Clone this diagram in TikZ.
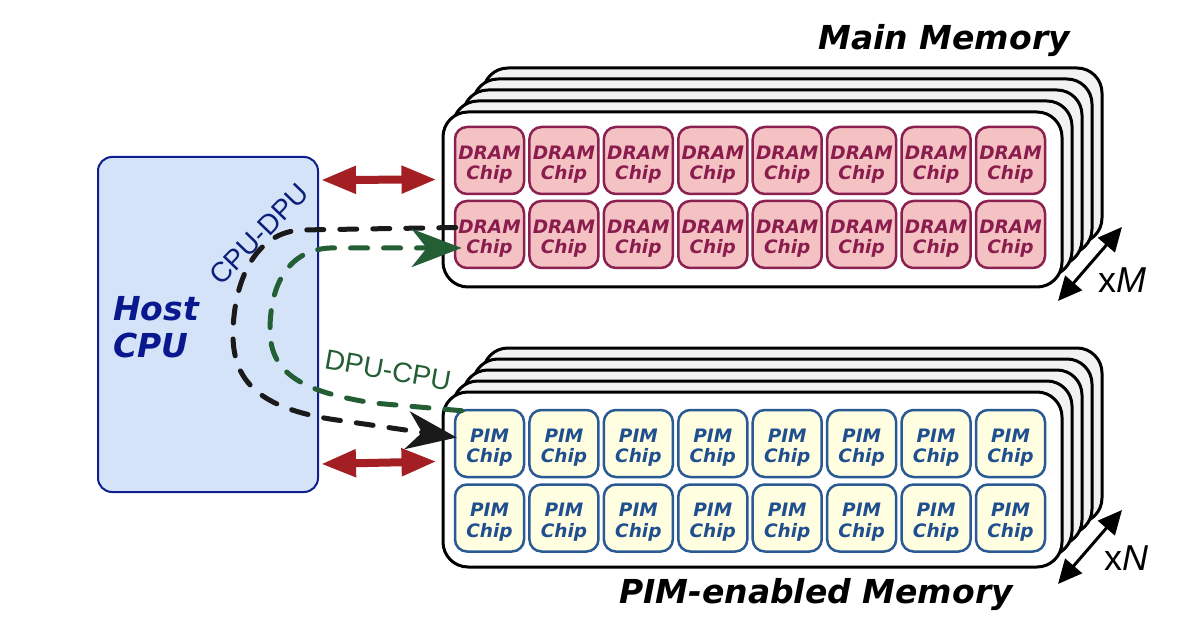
\documentclass[tikz,border=0pt]{standalone}
\usepackage{fontspec}
\setmainfont{DejaVu Sans}
\newfontfamily\vfont{DejaVu Sans}
\newfontfamily\afont{Liberation Sans}
\usetikzlibrary{arrows.meta,calc}
\definecolor{hostfill}{HTML}{D5E3F8}
\definecolor{hostdraw}{HTML}{0E1E8E}
\definecolor{hosttext}{HTML}{0A1890}
\definecolor{redarrow}{HTML}{A31F24}
\definecolor{blackdash}{HTML}{1A1A1A}
\definecolor{greendash}{HTML}{245E35}
\definecolor{dramfill}{HTML}{F4C2C3}
\definecolor{dramdraw}{HTML}{8A2151}
\definecolor{dramtext}{HTML}{8A1C4E}
\definecolor{pimfill}{HTML}{FFFEE0}
\definecolor{pimdraw}{HTML}{2A5A94}
\definecolor{pimtext}{HTML}{1F4F8F}
\definecolor{backfill}{HTML}{F2F2F2}
\definecolor{cpudpu}{HTML}{0B1F7A}
\begin{document}
\begin{tikzpicture}[x=1pt,y=-1pt,
  hostbox/.style={draw=hostdraw,fill=hostfill,line width=2pt,rounded corners=14pt,minimum width=220pt,minimum height=335pt,inner sep=0pt},
  hostlabel/.style={font=\vfont\bfseries\itshape\fontsize{33}{38}\selectfont,text=hosttext,inner sep=0pt},
  membox/.style={draw=black,fill=white,line width=3pt,rounded corners=25pt,minimum width=619pt,minimum height=175pt,inner sep=0pt},
  backbox/.style={membox,fill=backfill},
  chipD/.style={draw=dramdraw,fill=dramfill,line width=2.5pt,rounded corners=12pt,minimum width=69pt,minimum height=67pt,inner sep=0pt},
  chipP/.style={chipD,draw=pimdraw,fill=pimfill},
  chiptext/.style={inner sep=0pt,align=center,font=\vfont\bfseries\itshape\fontsize{18.5}{20.5}\selectfont},
  redarr/.style={draw=redarrow,line width=8pt,{Triangle[width=26pt,length=35pt]}-{Triangle[width=26pt,length=35pt]}},
  blkdash/.style={draw=blackdash,line width=5pt,line cap=round,dash pattern=on 17pt off 16pt,-{Stealth[length=50pt,width=38pt,inset=15pt]}},
  grndash/.style={blkdash,draw=greendash,color=greendash},
  xarr/.style={draw=black,line width=3pt,{Triangle[width=22pt,length=24pt]}-{Triangle[width=22pt,length=24pt]}},
  titlelabel/.style={font=\vfont\bfseries\itshape\fontsize{33}{38}\selectfont,inner sep=0pt},
  countlabel/.style={font=\afont\fontsize{36}{40}\selectfont,inner sep=0pt},
  pathlabel/.style={font=\afont\fontsize{28}{30}\selectfont,inner sep=0pt}
]
\useasboundingbox (0,0) rectangle (1186,628);

% Host CPU
\node[hostbox] (host) at (208,324.5) {};
\node[hostlabel,anchor=base west] (hostA) at (113,320) {Host};
\node[hostlabel,anchor=base west] (hostB) at (113,357) {CPU};

% Main memory stack
\foreach \k in {4,3,2,1}{
  \node[backbox] (mmb\k) at (752.5+10*\k,199.5-11*\k) {};
}
\node[membox] (mm) at (752.5,199.5) {};

% PIM memory stack
\foreach \k in {4,3,2,1}{
  \node[backbox] (pmb\k) at (752.5+10*\k,479.5-11*\k) {};
}
\node[membox] (pm) at (752.5,479.5) {};

% chips
\foreach \i in {1,...,8}{
  \pgfmathsetmacro{\cx}{489.5+74.43*(\i-1)}
  \node[chipD] (d1-\i) at (\cx,160.5) {};
  \node[chiptext,text=dramtext] (d1t-\i) at (\cx,164.5) {DRAM\\Chip};
  \node[chipD] (d2-\i) at (\cx,234.5) {};
  \node[chiptext,text=dramtext] (d2t-\i) at (\cx,238.5) {DRAM\\Chip};
  \node[chipP] (p1-\i) at (\cx,443.5) {};
  \node[chiptext,text=pimtext] (p1t-\i) at (\cx,447.5) {PIM\\Chip};
  \node[chipP] (p2-\i) at (\cx,518) {};
  \node[chiptext,text=pimtext] (p2t-\i) at (\cx,522) {PIM\\Chip};
}

% titles
\node[titlelabel,anchor=base east] (mmtitle) at (1070,50) {Main Memory};
\node[titlelabel,anchor=base] (pmtitle) at (816,603) {PIM-enabled Memory};

% red double arrows
\coordinate (ra1) at ($(host.north east)+(2,24)$);
\coordinate (rb1) at ($(mm.north west)+(-5,69)$);
\coordinate (ra2) at ($(host.south east)+(2,-29)$);
\coordinate (rb2) at ($(pm.north west)+(-5,71)$);
\draw[redarr] (ra1) -- (rb1);
\draw[redarr] (ra2) -- (rb2);

% dashed transfer curves
\coordinate (bstart) at ($(d2-1.west)+(2,-7)$);
\coordinate (bend) at ($(p1-1.west)+(3,-6)$);
\coordinate (gstart) at ($(p1-1.north west)+(8,2)$);
\coordinate (gend) at ($(d2-1.west)+(8,13.5)$);
\draw[blkdash] (bstart) -- (300,230) .. controls (250,234) and (233,290) .. (233,335) .. controls (233,385) and (265,408) .. (330,419) -- (bend);
\draw[grndash] (gstart) -- (373,403) .. controls (305,392) and (270,375) .. (270,330) .. controls (270,285) and (288,250) .. (330,248) -- (gend);

\node[pathlabel,text=cpudpu,rotate=46] (lcd) at (259,234) {CPU-DPU};
\node[pathlabel,text=greendash,rotate=-10] (ldc) at (388,370) {DPU-CPU};

% multiplicity arrows
\coordinate (xm1) at (1058,301);
\coordinate (xm2) at (1122,227);
\coordinate (xn1) at (1058,584);
\coordinate (xn2) at (1122,510);
\draw[xarr] (xm1) -- (xm2);
\draw[xarr] (xn1) -- (xn2);
\node[countlabel,anchor=base] (xM) at (1122,293) {x\textit{M}};
\node[countlabel,anchor=base] (xN) at (1126,570) {x\textit{N}};
\end{tikzpicture}
\end{document}
